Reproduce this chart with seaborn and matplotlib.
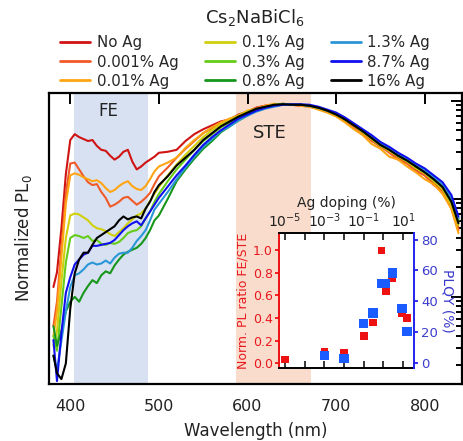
import numpy as np
import pandas as pd
import matplotlib
matplotlib.use("Agg")
import matplotlib.pyplot as plt
import seaborn as sns
from matplotlib.ticker import FixedLocator, NullFormatter, LogLocator, NullLocator, FuncFormatter

sns.set_theme(style="white")
plt.rcParams['font.family'] = ['DejaVu Sans']
plt.rcParams['mathtext.fontset'] = 'dejavusans'

# ---------------- data ----------------
wavelength = [381, 385, 390, 395, 400, 405, 410, 415, 420, 425, 430, 435, 440, 445, 450,
              455, 460, 465, 470, 475, 480, 485, 490, 495, 500, 510, 520, 530, 540, 550,
              560, 570, 580, 590, 600, 610, 620, 630, 640, 650, 660, 670, 680, 690, 700,
              710, 720, 730, 740, 750, 760, 770, 780, 790, 800, 810, 820, 830, 838]

samples = ["No Ag", "0.001% Ag", "0.01% Ag", "0.1% Ag", "0.3% Ag", "0.8% Ag",
           "1.3% Ag", "8.7% Ag", "16% Ag"]
colors = ["#d01414", "#f05a28", "#ffa514", "#cfcf0a", "#66cc1a", "#16961a",
          "#2b96d6", "#1010ee", "#000000"]

# log10 of normalized PL
log_no_ag = [-1.90, -1.75, -1.30, -0.75, -0.40, -0.34, -0.37, -0.39, -0.41, -0.40, -0.46, -0.50,
             -0.51, -0.56, -0.60, -0.57, -0.52, -0.50, -0.62, -0.70, -0.67, -0.63, -0.60, -0.57,
             -0.53, -0.52, -0.50, -0.41, -0.34, -0.29, -0.25,
             -0.21, -0.19, -0.14, -0.11, -0.07, -0.05, -0.04, -0.04, -0.04, -0.05, -0.05, -0.08,
             -0.11, -0.15, -0.20, -0.26, -0.33, -0.40, -0.47, -0.52, -0.58, -0.63, -0.70, -0.76,
             -0.84, -0.92, -1.08, -1.30]
log_ag_0001 = [-2.30, -2.05, -1.50, -0.95, -0.64, -0.63, -0.70, -0.77, -0.83, -0.86, -0.85, -0.93,
               -0.99, -1.08, -1.06, -1.03, -0.99, -0.98, -1.02, -1.06, -1.03, -0.99, -0.94, -0.85,
               -0.77, -0.68, -0.58, -0.49, -0.41, -0.33, -0.28,
               -0.22, -0.19, -0.15, -0.11, -0.07, -0.05, -0.04, -0.03, -0.04, -0.05, -0.06, -0.08,
               -0.11, -0.15, -0.21, -0.27, -0.33, -0.41, -0.46, -0.53, -0.60, -0.64, -0.72, -0.76,
               -0.86, -0.92, -1.10, -1.32]
log_ag_001 = [-2.40, -2.15, -1.60, -1.05, -0.76, -0.74, -0.755, -0.78, -0.80, -0.82, -0.81, -0.84,
              -0.89, -0.93, -0.91, -0.87, -0.84, -0.82, -0.87, -0.90, -0.91, -0.87, -0.80, -0.72,
              -0.67, -0.63, -0.58, -0.48, -0.40, -0.33, -0.27,
              -0.22, -0.18, -0.15, -0.10, -0.08, -0.05, -0.03, -0.04, -0.04, -0.05, -0.06, -0.09,
              -0.12, -0.16, -0.22, -0.29, -0.35, -0.44, -0.49, -0.57, -0.60, -0.67, -0.73, -0.80,
              -0.85, -0.95, -1.10, -1.35]
log_ag_01 = [-2.50, -2.35, -1.85, -1.40, -1.17, -1.15, -1.16, -1.19, -1.22, -1.27, -1.30, -1.31,
             -1.33, -1.36, -1.38, -1.34, -1.30, -1.25, -1.21, -1.17, -1.15, -1.10, -1.02, -0.95,
             -0.88, -0.76, -0.65, -0.55, -0.46, -0.37, -0.30,
             -0.24, -0.20, -0.15, -0.11, -0.08, -0.06, -0.04, -0.035, -0.04, -0.04, -0.05, -0.07,
             -0.10, -0.14, -0.19, -0.25, -0.32, -0.39, -0.46, -0.51, -0.57, -0.62, -0.69, -0.74,
             -0.82, -0.90, -1.06, -1.27]
log_ag_03 = [-2.40, -2.55, -2.10, -1.65, -1.40, -1.37, -1.38, -1.40, -1.38, -1.43, -1.42, -1.46,
             -1.47, -1.45, -1.46, -1.44, -1.40, -1.35, -1.33, -1.32, -1.28, -1.20, -1.13, -1.03,
             -0.95, -0.82, -0.70, -0.60, -0.50, -0.41, -0.34,
             -0.27, -0.22, -0.17, -0.12, -0.09, -0.07, -0.04, -0.035, -0.04, -0.04, -0.05, -0.07,
             -0.10, -0.14, -0.19, -0.25, -0.31, -0.38, -0.45, -0.50, -0.56, -0.61, -0.67, -0.73,
             -0.80, -0.88, -1.03, -1.22]
log_ag_08 = [-2.30, -2.50, -2.35, -2.15, -2.05, -2.00, -2.05, -1.96, -1.89, -1.83, -1.86, -1.78,
             -1.74, -1.76, -1.68, -1.62, -1.57, -1.54, -1.52, -1.50, -1.46, -1.40, -1.32, -1.22,
             -1.17, -1.00, -0.82, -0.70, -0.59, -0.49, -0.41,
             -0.32, -0.26, -0.20, -0.15, -0.10, -0.07, -0.05, -0.03, -0.04, -0.04, -0.05, -0.07,
             -0.10, -0.13, -0.18, -0.24, -0.31, -0.37, -0.45, -0.49, -0.56, -0.60, -0.67, -0.72,
             -0.79, -0.86, -1.00, -1.20]
log_ag_13 = [-2.60, -2.75, -2.45, -2.15, -1.90, -1.78, -1.76, -1.72, -1.67, -1.65, -1.67, -1.66,
             -1.63, -1.66, -1.60, -1.56, -1.55, -1.55, -1.50, -1.43, -1.38, -1.32, -1.22, -1.11,
             -1.05, -0.93, -0.80, -0.68, -0.57, -0.47, -0.39,
             -0.31, -0.26, -0.20, -0.15, -0.11, -0.08, -0.06, -0.04, -0.04, -0.04, -0.05, -0.07,
             -0.10, -0.13, -0.18, -0.24, -0.30, -0.37, -0.43, -0.49, -0.54, -0.60, -0.66, -0.71,
             -0.78, -0.86, -1.00, -1.20]
log_ag_87 = [-2.44, -2.86, -2.37, -1.96, -1.80, -1.67, -1.62, -1.57, -1.55, -1.48, -1.48, -1.47,
             -1.46, -1.45, -1.42, -1.37, -1.32, -1.28, -1.25, -1.23, -1.27, -1.20, -1.13, -1.06,
             -0.99, -0.875, -0.76, -0.66, -0.55, -0.45, -0.37,
             -0.30, -0.24, -0.18, -0.14, -0.10, -0.07, -0.05, -0.04, -0.035, -0.035, -0.04, -0.06,
             -0.09, -0.12, -0.17, -0.23, -0.29, -0.35, -0.42, -0.47, -0.53, -0.58, -0.64, -0.69,
             -0.76, -0.83, -0.96, -1.18]
log_ag_16 = [-2.60, -2.78, -2.84, -2.68, -2.12, -1.76, -1.62, -1.55, -1.55, -1.47, -1.40, -1.37,
             -1.34, -1.31, -1.28, -1.22, -1.18, -1.21, -1.19, -1.18, -1.20, -1.10, -1.03, -0.93,
             -0.86, -0.77, -0.66, -0.58, -0.50, -0.40, -0.33,
             -0.26, -0.21, -0.16, -0.12, -0.08, -0.06, -0.04, -0.035, -0.04, -0.04, -0.05, -0.07,
             -0.10, -0.14, -0.19, -0.25, -0.31, -0.38, -0.45, -0.50, -0.56, -0.61, -0.67, -0.73,
             -0.80, -0.88, -1.03, -1.25]

series_logs = [log_no_ag, log_ag_0001, log_ag_001, log_ag_01, log_ag_03, log_ag_08,
               log_ag_13, log_ag_87, log_ag_16]

# inset data
doping = [1e-5, 1e-3, 1e-2, 0.1, 0.3, 0.8, 1.3, 2.8, 8.7, 16]
fe_ste_ratio = [0.03, 0.10, 0.09, 0.24, 0.36, 1.00, 0.64, 0.75, 0.44, 0.40]
plqy_doping = [1e-3, 1e-2, 0.1, 0.3, 0.8, 1.3, 2.8, 8.7, 16]
plqy = [5.0, 3.0, 25.5, 32.5, 51.5, 51.5, 58.5, 35.5, 20.5]

fe_band = (403.7, 488)
ste_band = (587, 672)

# ---------------- figure ----------------
W, H = 464, 441
fig = plt.figure(figsize=(W / 100, H / 100), dpi=100)
ax = fig.add_axes([49 / W, 1 - 384 / H, (462 - 49) / W, (384 - 93) / H])

rows = []
for name, logs in zip(samples, series_logs):
    for wl, lv in zip(wavelength, logs):
        rows.append({"Wavelength": wl, "PL": 10.0 ** lv, "Sample": name})
df = pd.DataFrame(rows)

ax.axvspan(*fe_band, color="#d8e1f2", lw=0, zorder=0)
ax.axvspan(*ste_band, color="#f9dccb", lw=0, zorder=0)

sns.lineplot(data=df, x="Wavelength", y="PL", hue="Sample", hue_order=samples,
             palette=dict(zip(samples, colors)), sort=False, estimator=None,
             linewidth=1.5, ax=ax)
ax.set_yscale("log")
ax.set_xlim(376, 842)
ax.set_ylim(10 ** -2.89, 10 ** 0.08)

ax.xaxis.set_major_locator(FixedLocator([400, 500, 600, 700, 800]))
ax.xaxis.set_minor_locator(NullLocator())
ax.yaxis.set_major_locator(LogLocator(base=10, numticks=10))
ax.yaxis.set_minor_locator(LogLocator(base=10, subs=np.arange(2, 10), numticks=10))
ax.yaxis.set_major_formatter(NullFormatter())
ax.yaxis.set_minor_formatter(NullFormatter())
ax.tick_params(which="both", direction="in", top=True, right=True, width=1.4, color="black")
ax.tick_params(which="major", length=8)
ax.tick_params(which="minor", length=4.5)
ax.tick_params(axis="x", labelsize=11.5, pad=10.5, labelcolor="#222222")
for sp in ax.spines.values():
    sp.set_color("black")
    sp.set_linewidth(1.6)

ax.set_xlabel("Wavelength (nm)", fontsize=12, labelpad=6, color="#222222")
ax.set_ylabel("Normalized PL$_0$", fontsize=12, labelpad=7, color="#222222")

ax.text(443, 10 ** -0.1, "FE", ha="center", va="center", fontsize=12, color="#222222")
ax.text(625, 10 ** -0.33, "STE", ha="center", va="center", fontsize=13, color="#222222")

# legend
sns.move_legend(ax, loc="upper left", bbox_to_anchor=(60 / W, 1 - 35.5 / H),
                bbox_transform=fig.transFigure, ncol=3, frameon=False, title=None,
                fontsize=10.8, handlelength=2.0, handletextpad=0.45,
                columnspacing=1.75, labelspacing=0.27, borderpad=0, borderaxespad=0)
for line in ax.get_legend().get_lines():
    line.set_linewidth(2)

fig.text(255 / W, 1 - 18 / H, r"Cs$_2$NaBiCl$_6$", ha="center", va="center",
         fontsize=13, color="#222222")

# ---------------- inset ----------------
axin = fig.add_axes([279 / W, 1 - 368 / H, 135 / W, 135 / H])
axin.set_facecolor("white")
sns.scatterplot(x=doping, y=fe_ste_ratio, marker="s", color="#ee1111", s=30,
                edgecolor="none", ax=axin, zorder=3)
axin.set_xscale("log")
axin.set_xlim(10 ** -5.3, 10 ** 1.55)
axin.set_ylim(-0.044, 1.154)

axin2 = axin.twinx()
sns.scatterplot(x=plqy_doping, y=plqy, marker="s", color="#1a5cff", s=46,
                edgecolor="none", ax=axin2, zorder=4)
axin2.set_ylim(-3.2, 84.3)

decades = [1e-5, 1e-4, 1e-3, 1e-2, 1e-1, 1e0, 1e1]
axin.xaxis.set_major_locator(FixedLocator(decades))
axin.xaxis.set_minor_locator(NullLocator())


def dec_fmt(v, pos):
    e = int(round(np.log10(v)))
    return r"$10^{%d}$" % e if e % 2 != 0 else ""


axin.xaxis.set_major_formatter(FuncFormatter(dec_fmt))
axin.tick_params(axis="x", which="both", direction="in", top=True, bottom=True,
                 labeltop=True, labelbottom=False, length=5, width=1.3, labelsize=10,
                 pad=2, labelcolor="#222222")
axin.xaxis.set_label_position("top")
axin.set_xlabel("Ag doping (%)", fontsize=10, labelpad=3, color="#222222")

axin.yaxis.set_major_locator(FixedLocator([0, 0.2, 0.4, 0.6, 0.8, 1.0]))
axin.yaxis.set_major_formatter(FuncFormatter(lambda v, p: "%.1f" % v))
axin.tick_params(axis="y", which="both", direction="out", left=True, right=False,
                 length=3, width=1.3, color="#ee1111", labelcolor="#e8191e",
                 labelsize=9, pad=1.5)
axin.set_ylabel("Norm. PL ratio FE/STE", fontsize=9, color="#e8191e")
axin.yaxis.set_label_coords(-0.222, 0.5)

axin2.yaxis.set_major_locator(FixedLocator([0, 20, 40, 60, 80]))
axin2.tick_params(axis="y", which="both", direction="out", right=True, left=False,
                  length=3, width=1.3, color="#2222ee", labelcolor="#3b3bcc",
                  labelsize=9.5, pad=2)
axin2.set_ylabel("PLQY (%)", fontsize=10, color="#3b3bcc", rotation=270, labelpad=12)

for name, sp in axin.spines.items():
    sp.set_linewidth(1.4)
    sp.set_color("black")
axin.spines["left"].set_color("#ee1111")
axin.spines["right"].set_visible(False)
for name, sp in axin2.spines.items():
    sp.set_visible(name == "right")
axin2.spines["right"].set_color("#2222ee")
axin2.spines["right"].set_linewidth(1.4)

fig.savefig("out.png", dpi=100)
